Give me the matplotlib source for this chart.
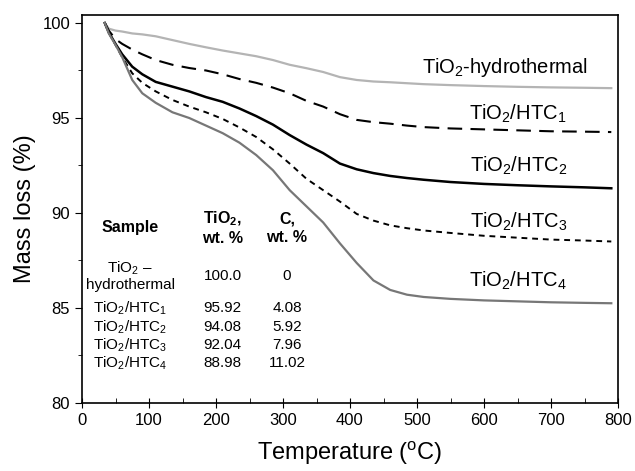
import matplotlib
matplotlib.use("Agg")
import matplotlib.pyplot as plt
from matplotlib.ticker import MultipleLocator

plt.rcParams['font.family'] = ['Liberation Sans', 'DejaVu Sans']
plt.rcParams['mathtext.fontset'] = 'custom'
plt.rcParams['mathtext.rm'] = 'Liberation Sans'
plt.rcParams['mathtext.it'] = 'Liberation Sans:italic'
plt.rcParams['mathtext.bf'] = 'Liberation Sans:bold'

temperature = [34, 40, 50, 60, 75, 90, 110, 135, 160, 185, 210, 235, 260, 285, 310, 335,
               360, 385, 410, 435, 460, 485, 510, 550, 600, 650, 700, 750, 790]
hydrothermal = [100, 99.7, 99.6, 99.55, 99.45, 99.4, 99.3, 99.1, 98.9, 98.72, 98.55, 98.4, 98.25,
                98.05, 97.8, 97.62, 97.42, 97.15, 97.0, 96.92, 96.88, 96.83, 96.78, 96.73, 96.68,
                96.64, 96.61, 96.59, 96.57]
htc1 = [100, 99.6, 99.15, 98.9, 98.6, 98.35, 98.05, 97.8, 97.63, 97.5, 97.3, 97.05, 96.85, 96.6,
        96.3, 95.9, 95.6, 95.2, 94.9, 94.78, 94.7, 94.6, 94.52, 94.45, 94.4, 94.35, 94.3, 94.28, 94.26]
htc2 = [100, 99.5, 98.9, 98.35, 97.7, 97.3, 96.9, 96.65, 96.4, 96.1, 95.85, 95.5, 95.1, 94.65,
        94.1, 93.6, 93.15, 92.6, 92.3, 92.1, 91.95, 91.84, 91.75, 91.63, 91.53, 91.46, 91.4, 91.35, 91.3]
htc3 = [100, 99.5, 98.85, 98.2, 97.35, 96.85, 96.4, 95.95, 95.6, 95.3, 94.95, 94.5, 94.0, 93.35,
        92.6, 91.8, 91.2, 90.6, 89.95, 89.6, 89.35, 89.2, 89.08, 88.95, 88.8, 88.7, 88.6, 88.55, 88.5]
htc4 = [100, 99.45, 98.85, 98.2, 97.0, 96.3, 95.8, 95.3, 95.0, 94.6, 94.2, 93.7, 93.05, 92.25,
        91.2, 90.35, 89.5, 88.4, 87.37, 86.45, 85.95, 85.7, 85.58, 85.48, 85.4, 85.35, 85.3, 85.27, 85.25]

curve_labels = [r'TiO$_2$-hydrothermal', r'TiO$_2$/HTC$_1$', r'TiO$_2$/HTC$_2$',
                r'TiO$_2$/HTC$_3$', r'TiO$_2$/HTC$_4$']

table_samples = [r'TiO$_2$ –' + '\nhydrothermal', r'TiO$_2$/HTC$_1$', r'TiO$_2$/HTC$_2$',
                 r'TiO$_2$/HTC$_3$', r'TiO$_2$/HTC$_4$']
table_tio2 = ['100.0', '95.92', '94.08', '92.04', '88.98']
table_c = ['0', '4.08', '5.92', '7.96', '11.02']

fig = plt.figure(figsize=(6.35, 4.71), dpi=100)
ax = fig.add_axes([82 / 635, 1 - 403 / 471, 536 / 635, 388 / 471])

ax.plot(temperature, hydrothermal, color='#b4b4b4', lw=1.6)
ax.plot(temperature, htc1, color='black', lw=1.5, dashes=(7, 4))
ax.plot(temperature, htc2, color='black', lw=1.8)
ax.plot(temperature, htc3, color='black', lw=1.4, dashes=(3, 2.5))
ax.plot(temperature, htc4, color='#777777', lw=1.6)

ax.set_xlim(0, 800)
ax.set_ylim(80, 100.42)
ax.xaxis.set_major_locator(MultipleLocator(100))
ax.xaxis.set_minor_locator(MultipleLocator(50))
ax.yaxis.set_major_locator(MultipleLocator(5))
ax.yaxis.set_minor_locator(MultipleLocator(2.5))
ax.tick_params(axis='x', which='major', direction='inout', length=7, labelsize=12)
ax.tick_params(axis='x', which='minor', direction='in', length=3.5)
ax.tick_params(axis='y', which='major', direction='out', length=5, labelsize=12)
ax.tick_params(axis='y', which='minor', direction='out', length=3)
for s in ax.spines.values():
    s.set_linewidth(1.2)

ax.set_xlabel(r'Temperature ($^{\rm o}$C)', fontsize=17, labelpad=9)
ax.set_ylabel('Mass loss (%)', fontsize=17, labelpad=5)

# curve labels, anchored at text baseline
label_pos = [(631, 97.37), (651, 94.9), (651, 92.16), (651, 89.21), (651, 86.1)]
for (lx, ly), txt in zip(label_pos, curve_labels):
    ax.text(lx, ly, txt, fontsize=14.5, ha='center', va='baseline')

# inset table
col_x = [72, 210, 306]
ax.text(col_x[0], 89.25, 'Sample', fontsize=11.5, fontweight='bold', ha='center', va='center')
ax.text(col_x[1], 89.21, r'TiO$_\mathbf{2}$,' + '\nwt. %', fontsize=11.5, fontweight='bold',
        ha='center', va='center', linespacing=1.25)
ax.text(col_x[2], 89.21, 'C,\nwt. %', fontsize=11.5, fontweight='bold',
        ha='center', va='center', linespacing=1.25)
row_y = [86.7, 85.0, 84.0, 83.05, 82.1]
for yy, s, t, c in zip(row_y, table_samples, table_tio2, table_c):
    ax.text(col_x[0], yy, s, fontsize=11, ha='center', va='center', linespacing=1.1)
    ax.text(col_x[1], yy, t, fontsize=11, ha='center', va='center')
    ax.text(col_x[2], yy, c, fontsize=11, ha='center', va='center')

fig.savefig('out.png', dpi=100)
